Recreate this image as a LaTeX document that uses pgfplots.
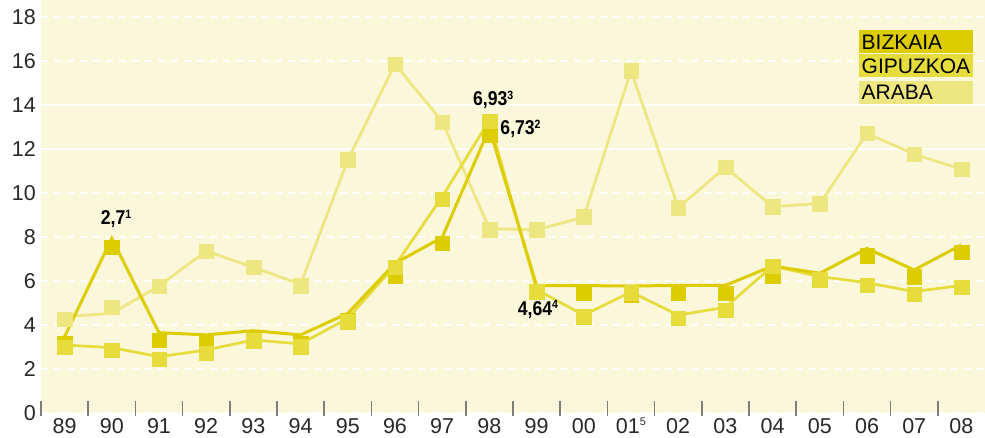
\documentclass[border=0pt]{standalone}
\usepackage{fontspec}
\setmainfont{Liberation Sans}
\newfontfamily\notefont{Liberation Sans}[FakeStretch=0.88]
\usepackage{pgfplots}
\usepackage{pgfplotstable}
\pgfplotsset{compat=1.18}

\definecolor{bizkaia}{RGB}{221,204,0}
\definecolor{gipuzkoa}{RGB}{230,220,60}
\definecolor{araba}{RGB}{238,230,128}
\definecolor{bgcream}{RGB}{250,247,219}
\definecolor{tickgray}{RGB}{125,125,125}
\definecolor{labgray}{RGB}{40,40,40}

\newcommand\sups[1]{\raisebox{0.65ex}{\fontsize{11}{11}\selectfont #1}}
\newcommand\note[2]{{\notefont\bfseries\fontsize{20}{20}\selectfont #1\raisebox{0.6ex}{\fontsize{12}{12}\selectfont #2}}}

% m = marker position, l = line vertex (they are drawn apart in the original)
\pgfplotstableread{
i  bzm   bzl   gpm   gpl   arm   arl
0  3.18  3.47  2.99  3.09  4.26  4.38
1  7.53  7.94  2.86  2.97  4.80  4.53
2  3.30  3.65  2.44  2.56  5.77  5.77
3  3.22  3.55  2.71  2.86  7.36  7.36
4  3.40  3.74  3.29  3.32  6.62  6.62
5  3.18  3.55  3.02  3.14  5.79  5.85
6  4.20  4.53  4.15  4.30  11.50 11.50
7  6.24  6.80  6.62  6.70  15.85 15.85
8  7.71  7.98  9.71  9.83  13.21 13.25
9  12.65 12.94 13.27 13.30 8.32  8.38
10 5.50  5.79  5.52  5.60  8.32  8.32
11 5.45  5.79  4.37  4.45  8.91  8.91
12 5.36  5.77  5.47  5.50  15.55 15.55
13 5.44  5.80  4.30  4.45  9.33  9.33
14 5.44  5.80  4.68  4.80  11.17 11.17
15 6.21  6.68  6.68  6.68  9.38  9.38
16 6.05  6.35  6.05  6.20  9.52  9.52
17 7.14  7.48  5.80  5.92  12.71 12.71
18 6.20  6.50  5.39  5.52  11.76 11.76
19 7.30  7.64  5.71  5.80  11.08 11.08
}\rates

\begin{document}
\begin{tikzpicture}
\begin{axis}[
  width=944pt, height=413pt, scale only axis,
  xmin=-0.5, xmax=19.5, ymin=0, ymax=18.77,
  axis background/.style={fill=bgcream},
  axis line style={draw=none},
  tick pos=left, tick align=inside,
  xtick={0,...,19},
  xticklabels={89,90,91,92,93,94,95,96,97,98,99,00,01\sups{5},02,03,04,05,06,07,08},
  minor xtick={-0.5,0.5,...,18.5},
  major tick length=0pt,
  minor tick length=15pt,
  every minor tick/.append style={draw=tickgray, line width=1.5pt, yshift=-3pt},
  ytick={0,2,...,18},
  ymajorgrids,
  major grid style={draw=white, line width=1.5pt, dash pattern=on 7pt off 6pt},
  extra y ticks={12,14},
  extra y tick labels={},
  extra y tick style={major grid style={draw=white, line width=1.5pt, solid}},
  ticklabel style={font=\fontsize{21.5}{21.5}\selectfont, text=labgray},
  xticklabel style={inner sep=5pt},
  yticklabel style={inner sep=5pt},
  /pgf/number format/assume math mode=true,
]
\addplot[araba, line width=2.7pt, no marks] table[x=i, y=arl]{\rates};
\addplot[gipuzkoa, line width=2.7pt, no marks] table[x=i, y=gpl]{\rates};
\addplot[bizkaia, line width=3pt, no marks] table[x=i, y=bzl]{\rates};
\addplot[araba, only marks, mark=square*, mark size=7.3pt] table[x=i, y=arm]{\rates};
\addplot[bizkaia, only marks, mark=square*, mark size=7.3pt] table[x=i, y=bzm]{\rates};
\addplot[gipuzkoa, only marks, mark=square*, mark size=7.3pt] table[x=i, y=gpm]{\rates};

\node at (axis cs:1.09,8.82) {\note{2,7}{1}};
\node at (axis cs:9.08,14.23) {\note{6,93}{3}};
\node at (axis cs:9.66,12.90) {\note{6,73}{2}};
\node at (axis cs:10.03,4.70) {\note{4,64}{4}};
\end{axis}

\begin{scope}[every node/.style={anchor=north west, inner xsep=2.5pt, inner ysep=0pt,
    text width=109pt, minimum height=22.7pt, text height=15pt, text depth=0pt,
    align=left, font=\fontsize{21}{21}\selectfont}]
\node[fill=bizkaia] at (818pt,383pt) {BIZKAIA};
\node[fill=gipuzkoa] at (818pt,359pt) {GIPUZKOA};
\node[fill=araba] at (818pt,332.3pt) {ARABA};
\end{scope}

\pgfresetboundingbox
\path[use as bounding box] (-41pt,-25pt) rectangle (944pt,413pt);
\end{tikzpicture}
\end{document}
